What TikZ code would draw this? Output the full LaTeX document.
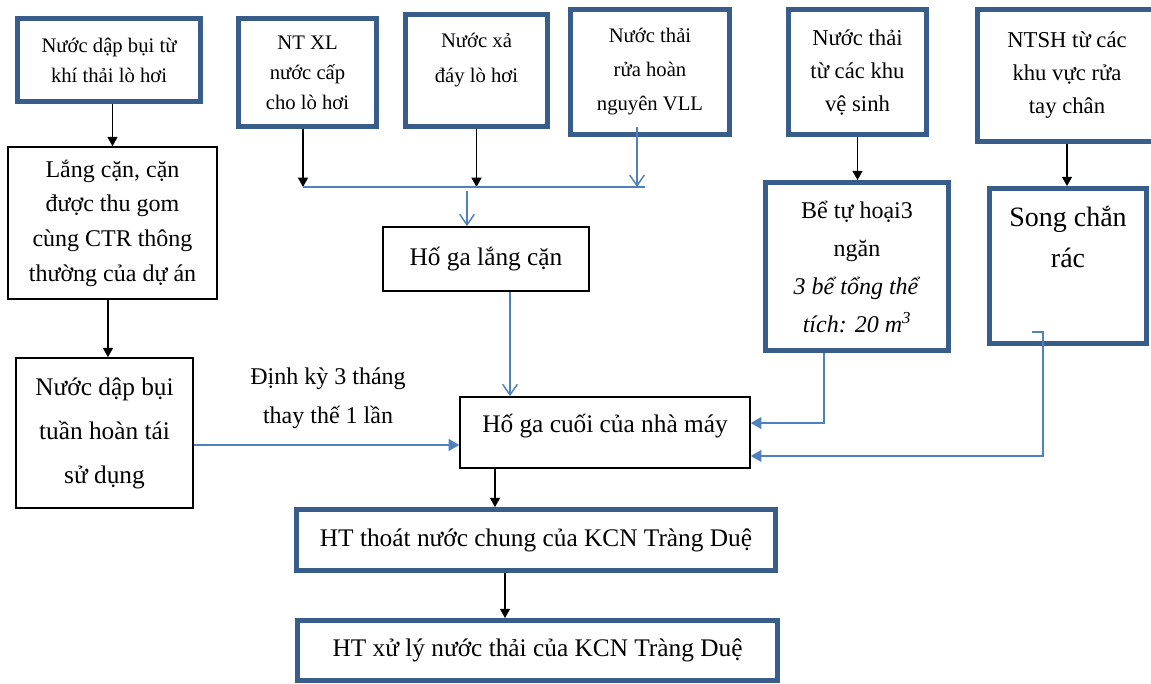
\documentclass[tikz,border=0pt]{standalone}
\usepackage{fontspec}
\setmainfont{Liberation Serif}
\usetikzlibrary{arrows.meta, positioning}
\definecolor{boxblue}{RGB}{56,93,138}
\definecolor{lineblue}{RGB}{79,129,189}
\newcommand{\topcell}[3]{\parbox[c][#1][t]{#2}{\centering #3}}

\begin{document}
\begin{tikzpicture}[
        x=0.75pt, y=-0.75pt,
        thickbox/.style={draw=boxblue, line width=3.6pt, rectangle, align=center, inner sep=0pt, fill=white},
        thinbox/.style={draw=black, line width=1.2pt, rectangle, align=center, inner sep=0pt, fill=white},
        arrow/.style={-{Triangle[width=7.5pt,length=7pt]}, line width=1.1pt},
        blueline/.style={draw=lineblue, line width=1.1pt},
        blueopen/.style={blueline, -{Straight Barb[width=11pt,length=8pt]}},
        bluearrow/.style={blueline, -{Triangle[width=9pt,length=8pt]}}
    ]
        \useasboundingbox (0,0) rectangle (1151,684);

        % Nguon nuoc thai
        \node[thickbox, minimum width=137.25pt, minimum height=62.25pt, font={\fontsize{15.5}{22.5}\selectfont}] (khithai) at (109,60) {Nước dập bụi từ\\khí thải lò hơi};
        \node[thickbox, minimum width=103.5pt, minimum height=81pt, font={\fontsize{15.5}{22.5}\selectfont}] (ntxl) at (307.5,72.5) {NT XL\\nước cấp\\cho lò hơi};
        \node[thickbox, minimum width=106.5pt, minimum height=84pt, font={\fontsize{15.5}{26}\selectfont}] (xaday) at (476.5,70.5) {\topcell{56pt}{100pt}{Nước xả\\đáy lò hơi}};
        \node[thickbox, minimum width=119.25pt, minimum height=93.75pt, font={\fontsize{15.5}{25.5}\selectfont}] (ruahoan) at (650,72) {Nước thải\\rửa hoàn\\nguyên VLL};
        \node[thickbox, minimum width=103.5pt, minimum height=93.75pt, font={\fontsize{17}{24.75}\selectfont}] (vesinh) at (857.5,72) {Nước thải\\từ các khu\\vệ sinh};
        \node[thickbox, minimum width=134.25pt, minimum height=99pt, font={\fontsize{17}{24.75}\selectfont}] (ntsh) at (1067,75.5) {NTSH từ các\\khu vực rửa\\tay chân};

        % Xu ly trung gian
        \node[thinbox, minimum width=156.75pt, minimum height=114pt, font={\fontsize{18}{26}\selectfont}] (langcan) at (112.5,223) {Lắng cặn, cặn\\được thu gom\\cùng CTR thông\\thường của dự án};
        \node[thinbox, minimum width=132.75pt, minimum height=112.5pt, font={\fontsize{19}{33}\selectfont}] (taisd) at (104.5,433) {Nước dập bụi\\tuần hoàn tái\\sử dụng};
        \node[thinbox, minimum width=154.5pt, minimum height=48pt, font={\fontsize{19}{24}\selectfont}] (hglang) at (486,259) {Hố ga lắng cặn};
        \node[thinbox, minimum width=217.5pt, minimum height=53.25pt, font={\fontsize{19}{24}\selectfont}] (hgcuoi) at (605,432.5) {\topcell{28pt}{210pt}{Hố ga cuối của nhà máy}};
        \node[thickbox, minimum width=137.25pt, minimum height=126pt, font={\fontsize{18}{28.5}\selectfont}] (tuhoai) at (857,266.5) {Bể tự hoại3\\ngăn\\\textit{3 bể tổng thể}\\\textit{tích: 20 m\textsuperscript{3}}};
        \node[thickbox, minimum width=117.75pt, minimum height=116.25pt, font={\fontsize{21}{31}\selectfont}] (songchan) at (1068,266) {\topcell{90pt}{110pt}{Song chắn\\rác}};

        % Dau ra
        \node[thickbox, minimum width=359.25pt, minimum height=45.75pt, font={\fontsize{19}{24}\selectfont}] (thoatnuoc) at (536,540) {HT thoát nước chung của KCN Tràng Duệ};
        \node[thickbox, minimum width=360pt, minimum height=45pt, font={\fontsize{19}{24}\selectfont}] (xuly) at (537.5,650.5) {HT xử lý nước thải của KCN Tràng Duệ};

        \node[font={\fontsize{18}{29}\selectfont}, align=center] (dinhky) at (328,398) {Định kỳ 3 tháng\\thay thế 1 lần};

        % Duong gom
        \coordinate (gomL) at (303,187);
        \coordinate (gomR) at (645,187);
        \coordinate (gomM) at (467,191);

        % Mui ten
        \draw[arrow] (langcan.north |- khithai.south) -- (langcan.north);
        \draw[arrow] ([xshift=-3.4pt]langcan.south) -- ([xshift=-3.4pt]langcan.south |- taisd.north);
        \draw[arrow] (ntxl.south -| gomL) -- (gomL);
        \draw[arrow] (xaday.south) -- (xaday.south |- gomL);
        \draw[blueopen] ([xshift=-9.75pt,yshift=7.5pt]ruahoan.south) -- ([xshift=-9.75pt]ruahoan.south |- gomR);
        \draw[blueline] (gomL) -- (gomR);
        \draw[blueopen] (gomM) -- (gomM |- hglang.north);
        \draw[blueopen] ([xshift=18pt]hglang.south) -- ([xshift=18pt]hglang.south |- hgcuoi.north);
        \draw[bluearrow] ([yshift=-9pt]taisd.east) -- ([yshift=-9pt]taisd.east -| hgcuoi.west);
        \draw[arrow] (vesinh.south) -- (vesinh.south |- tuhoai.north);
        \draw[arrow] (ntsh.south) -- (ntsh.south |- songchan.north);
        \draw[bluearrow] ([xshift=-24.75pt]tuhoai.south) |- ([yshift=7.1pt]hgcuoi.east);
        \draw[bluearrow] ([xshift=-27pt,yshift=-49.5pt]songchan.center) -- ++(11,0) |- ([yshift=-17.6pt]hgcuoi.east);
        \draw[arrow] ([xshift=-82.5pt]hgcuoi.south) -- ([xshift=-82.5pt]hgcuoi.south |- thoatnuoc.north);
        \draw[arrow] ([xshift=-23.25pt]thoatnuoc.south) -- ([xshift=-23.25pt]thoatnuoc.south |- xuly.north);
    \end{tikzpicture}
\end{document}
